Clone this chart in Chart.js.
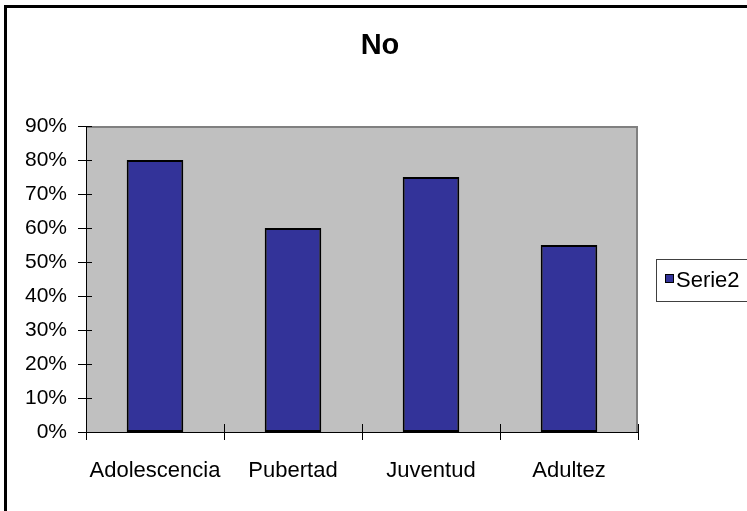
<!DOCTYPE html>
<html>
<head>
<meta charset="utf-8">
<script src="https://cdn.jsdelivr.net/npm/chart.js@4/dist/chart.umd.min.js"></script>
<style>
    html, body { margin: 0; padding: 0; background: #fff; overflow: hidden; }
    #wrap { width: 747px; height: 511px; position: relative; }
</style>
</head>
<body>
<div id="wrap"><canvas id="chart" width="747" height="511"></canvas></div>
<script>
const title = 'No';
const categories = ['Adolescencia', 'Pubertad', 'Juventud', 'Adultez'];
const seriesName = 'Serie2';
const serie2 = [80, 60, 75, 55];
const yTicks = [0, 10, 20, 30, 40, 50, 60, 70, 80, 90];

const BAR_COLOR = '#333399';
const FONT = 'Liberation Sans, Arial, sans-serif';

// fondo gris del area de trazado, marco exterior, titulo y leyenda
const decor = {
    id: 'decor',
    beforeDraw(chart) {
        const { ctx, chartArea: a } = chart;
        ctx.save();
        ctx.fillStyle = '#c0c0c0';
        ctx.fillRect(a.left, a.top, a.right - a.left, a.bottom - a.top);
        ctx.strokeStyle = '#808080';
        ctx.lineWidth = 2;
        ctx.beginPath();
        ctx.moveTo(a.left, a.top + 1);
        ctx.lineTo(a.right - 1, a.top + 1);
        ctx.lineTo(a.right - 1, a.bottom);
        ctx.stroke();
        ctx.restore();
    },
    afterDraw(chart) {
        const { ctx, chartArea: a } = chart;
        const x = chart.scales.x;
        const y = chart.scales.y;
        ctx.save();

        // marco exterior (sale por la derecha y por abajo)
        ctx.fillStyle = '#000';
        ctx.fillRect(4, 5, 3, 506);
        ctx.fillRect(4, 5, 743, 3);

        // ejes
        ctx.strokeStyle = '#000';
        ctx.lineWidth = 1;
        ctx.beginPath();
        ctx.moveTo(a.left + 0.5, a.top);
        ctx.lineTo(a.left + 0.5, a.bottom);
        ctx.moveTo(a.left, a.bottom + 0.5);
        ctx.lineTo(a.right, a.bottom + 0.5);
        y.ticks.forEach((t, i) => {
            const py = Math.round(y.getPixelForTick(i)) + 0.5;
            ctx.moveTo(a.left - 8, py);
            ctx.lineTo(a.left + 6, py);
        });
        for (let i = 0; i <= categories.length; i++) {
            const px = Math.round(x.left + (x.right - x.left) * i / categories.length) + 0.5;
            ctx.moveTo(px, a.bottom - 8);
            ctx.lineTo(px, a.bottom + 8);
        }
        ctx.stroke();

        // titulo
        ctx.fillStyle = '#000';
        ctx.font = 'bold 29px "Liberation Sans Narrow", ' + FONT;
        ctx.textAlign = 'center';
        ctx.textBaseline = 'middle';
        ctx.fillText(title, 380, 46);

        // leyenda
        ctx.fillStyle = '#fff';
        ctx.fillRect(656, 259, 100, 42);
        ctx.strokeStyle = '#404040';
        ctx.strokeRect(656.5, 259.5, 100, 42);
        ctx.fillStyle = chart.data.datasets[0].backgroundColor;
        ctx.fillRect(665, 274, 9, 9);
        ctx.strokeStyle = '#000';
        ctx.strokeRect(665.5, 274.5, 8, 8);
        ctx.fillStyle = '#000';
        ctx.font = '22px ' + FONT;
        ctx.textAlign = 'left';
        ctx.fillText(chart.data.datasets[0].label, 676, 281);
        ctx.restore();
    },
};

new Chart(document.getElementById('chart'), {
    type: 'bar',
    data: {
        labels: categories,
        datasets: [{
            label: seriesName,
            data: serie2,
            backgroundColor: BAR_COLOR,
            borderColor: '#000',
            borderWidth: 2,
            borderSkipped: false,
            categoryPercentage: 1,
            barPercentage: 0.41,
        }],
    },
    options: {
        responsive: false,
        animation: false,
        layout: { padding: { top: 126, right: 109, left: 0, bottom: 0 } },
        plugins: {
            legend: { display: false },
            title: { display: false },
            tooltip: { enabled: false },
        },
        scales: {
            x: {
                grid: { display: false },
                border: { display: false },
                ticks: {
                    color: '#000',
                    font: { family: FONT, size: 22 },
                    padding: 18,
                    maxRotation: 0,
                },
                afterFit(scale) { scale.height = 79; },
            },
            y: {
                min: 0,
                max: 90,
                grid: { display: false },
                border: { display: false },
                afterBuildTicks(scale) { scale.ticks = yTicks.map((v) => ({ value: v })); },
                ticks: {
                    color: '#000',
                    font: { family: FONT, size: 21 },
                    padding: 11,
                    callback: (v) => `${v}%`,
                },
                afterFit(scale) { scale.width = 86; },
            },
        },
    },
    plugins: [decor],
});
</script>
</body>
</html>
